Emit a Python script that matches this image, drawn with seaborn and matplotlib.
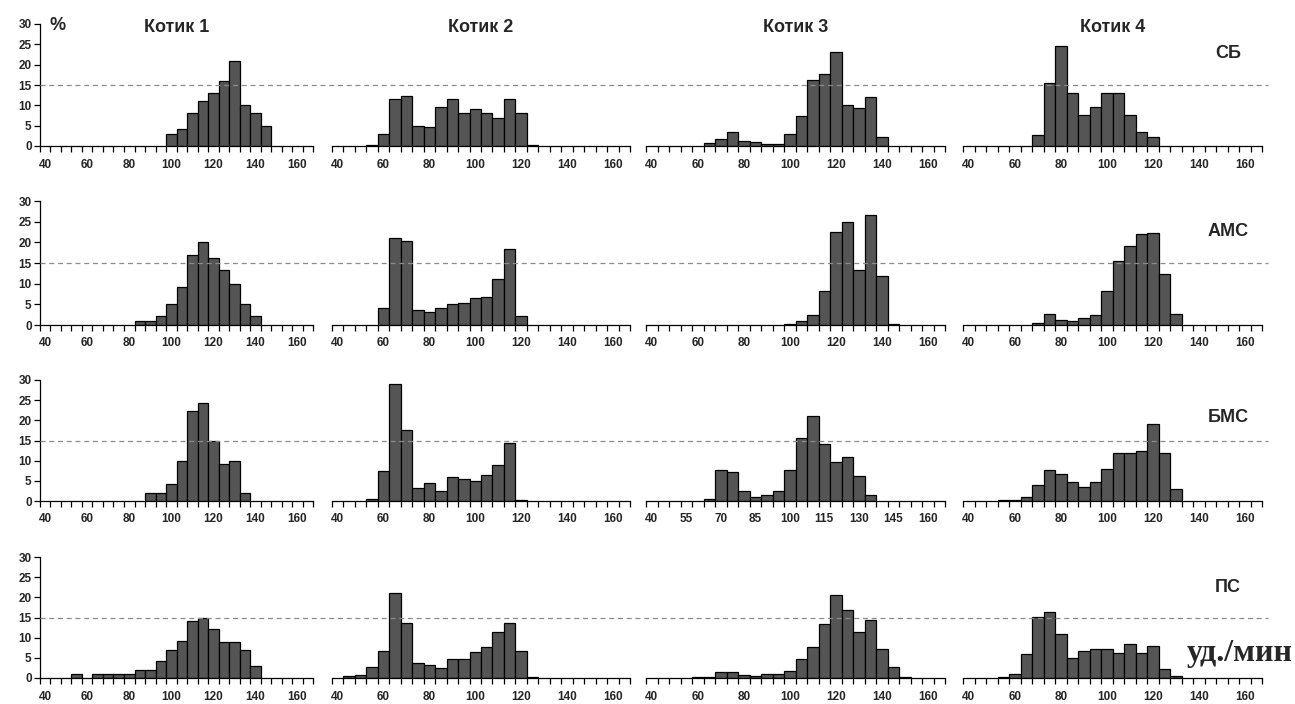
import numpy as np
import pandas as pd
import matplotlib
matplotlib.use("Agg")
import matplotlib.pyplot as plt
import seaborn as sns
from matplotlib.lines import Line2D
from matplotlib.transforms import blended_transform_factory
from matplotlib.ticker import FixedLocator

# ---------------- data ----------------
# heart-rate categories (уд./мин), one bar per category
CATEGORIES = [40, 45, 50, 55, 60, 65, 70, 75, 80, 85, 90, 95, 100,
              105, 110, 115, 120, 125, 130, 135, 140, 145, 150, 155, 160, 165]
CATS = ["Котик 1", "Котик 2", "Котик 3", "Котик 4"]
MODES = ["СБ", "АМС", "БМС", "ПС"]
TICKS_DEFAULT = [40, 60, 80, 100, 120, 140, 160]
TICKS_BMS_K3 = [40, 55, 70, 85, 100, 115, 130, 145, 160]
Y_TICKS = [0, 5, 10, 15, 20, 25, 30]
REF_LEVEL = 15

# percentages, one value per category (40 ... 165)
sb_k1 = [0, 0, 0, 0, 0, 0, 0, 0, 0, 0, 0, 0, 3, 4.2, 8, 11, 13, 16, 21, 10, 8, 5, 0, 0, 0, 0]
sb_k2 = [0, 0, 0, 0.3, 3, 11.5, 12.3, 5, 4.7, 9.5, 11.5, 8.2, 9.1, 8.2, 6.8, 11.5, 8, 0.3, 0, 0, 0, 0, 0, 0, 0, 0]
sb_k3 = [0, 0, 0, 0, 0, 0.7, 1.8, 3.5, 1.2, 0.9, 0.6, 0.6, 3, 7.4, 16.2, 17.7, 23.2, 10, 9.4, 12.1, 2.1, 0, 0, 0, 0, 0]
sb_k4 = [0, 0, 0, 0, 0, 0, 2.7, 15.4, 24.7, 13, 7.6, 9.7, 13, 13, 7.6, 3.5, 2.1, 0, 0, 0, 0, 0, 0, 0, 0, 0]

ams_k1 = [0, 0, 0, 0, 0, 0, 0, 0, 0, 1, 1, 2.1, 5, 9.2, 17, 20.2, 16.1, 13.3, 10, 5, 2.1, 0, 0, 0, 0, 0]
ams_k2 = [0, 0, 0, 0, 4.1, 21, 20.4, 3.6, 3.2, 4.1, 5, 5.35, 6.5, 6.8, 11.1, 18.4, 2.1, 0, 0, 0, 0, 0, 0, 0, 0, 0]
ams_k3 = [0, 0, 0, 0, 0, 0, 0, 0, 0, 0, 0, 0, 0.3, 0.9, 2.35, 8.3, 22.5, 24.8, 13.2, 26.5, 11.8, 0.3, 0, 0, 0, 0]
ams_k4 = [0, 0, 0, 0, 0, 0, 0.6, 2.75, 1.3, 1.0, 1.6, 2.5, 8.3, 15.6, 19.1, 22, 22.3, 12.3, 2.75, 0, 0, 0, 0, 0, 0, 0]

bms_k1 = [0, 0, 0, 0, 0, 0, 0, 0, 0, 0, 2, 2, 4.1, 10, 22.2, 24.2, 14.9, 9.1, 10, 2.1, 0, 0, 0, 0, 0, 0]
bms_k2 = [0, 0, 0, 0.6, 7.4, 29, 17.7, 3.2, 4.45, 2.4, 5.9, 5.4, 5.0, 6.5, 8.9, 14.5, 0.3, 0, 0, 0, 0, 0, 0, 0, 0, 0]
bms_k3 = [0, 0, 0, 0, 0, 0.6, 7.7, 7.1, 2.4, 0.9, 1.5, 2.6, 7.7, 15.7, 21, 14.2, 9.7, 11, 6.3, 1.5, 0, 0, 0, 0, 0, 0]
bms_k4 = [0, 0, 0, 0.3, 0.3, 0.9, 3.9, 7.7, 6.8, 4.7, 3.5, 4.7, 8.0, 11.8, 11.8, 12.4, 19.2, 11.8, 3.0, 0, 0, 0, 0, 0, 0, 0]

ps_k1 = [0, 0, 0, 1.0, 0, 1, 1, 1, 1, 2.05, 2.05, 4.1, 7, 9.1, 14.1, 15, 12.1, 9, 9, 7, 3, 0, 0, 0, 0, 0]
ps_k2 = [0, 0.4, 0.7, 2.7, 6.8, 21, 13.6, 3.8, 3.2, 2.4, 4.8, 4.8, 6.5, 7.6, 11.5, 13.6, 6.8, 0.3, 0, 0, 0, 0, 0, 0, 0, 0]
ps_k3 = [0, 0, 0, 0, 0.3, 0.3, 1.6, 1.6, 0.8, 0.5, 1.1, 1.1, 1.65, 4.7, 7.8, 13.5, 20.5, 16.9, 11.3, 14.3, 7.2, 2.8, 0.3, 0, 0, 0]
ps_k4 = [0, 0, 0, 0.3, 1.0, 6.0, 15.1, 16.4, 11.0, 4.9, 6.65, 7.2, 7.2, 6.3, 8.5, 6.3, 8.05, 2.2, 0.5, 0, 0, 0, 0, 0, 0, 0]

SERIES = [
    [sb_k1, sb_k2, sb_k3, sb_k4],
    [ams_k1, ams_k2, ams_k3, ams_k4],
    [bms_k1, bms_k2, bms_k3, bms_k4],
    [ps_k1, ps_k2, ps_k3, ps_k4],
]

# ---------------- style ----------------
sns.set_theme(style="ticks")
plt.rcParams["font.family"] = ["Liberation Sans", "DejaVu Sans"]
plt.rcParams["axes.linewidth"] = 0.9
plt.rcParams["axes.edgecolor"] = "black"

W, H = 1295, 704
fig = plt.figure(figsize=(W / 100, H / 100), dpi=100)

col_px = [(40, 313), (332, 630), (646, 945), (963, 1262)]
row_px = [(24, 146), (201, 325), (380, 501), (557, 678)]

BAR_COLOR = "#555555"
TICK_FS = 8.5
axes = []
for r in range(4):
    row_axes = []
    for c in range(4):
        x0, x1 = col_px[c]
        y0, y1 = row_px[r]
        ax = fig.add_axes([x0 / W, 1 - y1 / H, (x1 - x0) / W, (y1 - y0) / H])
        df = pd.DataFrame({"bpm": CATEGORIES, "pct": SERIES[r][c]})
        df = df[df["pct"] > 0]
        sns.barplot(data=df, x="bpm", y="pct", native_scale=True, width=1,
                    color=BAR_COLOR, saturation=1, edgecolor="black",
                    linewidth=0.9, errorbar=None, ax=ax)
        ax.set_xlim(37.5, 167.5)
        ax.set_ylim(0, 30)
        ax.set_xlabel("")
        ax.set_ylabel("")
        ticks = TICKS_BMS_K3 if (r == 2 and c == 2) else TICKS_DEFAULT
        ax.set_xticks(ticks)
        ax.set_xticklabels([str(t) for t in ticks], fontsize=TICK_FS,
                           fontweight="bold")
        ax.xaxis.set_minor_locator(FixedLocator(np.arange(37.5, 170, 5)))
        ax.tick_params(axis="x", which="major", length=0, pad=9)
        ax.tick_params(axis="x", which="minor", length=4, width=0.9,
                       direction="out", color="black")
        for s in ("top", "right"):
            ax.spines[s].set_visible(False)
        if c == 0:
            ax.set_yticks(Y_TICKS)
            ax.set_yticklabels([str(t) for t in Y_TICKS], fontsize=TICK_FS,
                               fontweight="bold")
            ax.tick_params(axis="y", length=4, width=0.9, pad=2, color="black")
        else:
            ax.set_yticks([])
            ax.spines["left"].set_visible(False)
        ax.set_facecolor("none")
        row_axes.append(ax)
    axes.append(row_axes)

    # dashed reference line across the whole row
    tr = blended_transform_factory(fig.transFigure, row_axes[0].transData)
    line = Line2D([40 / W, 1268 / W], [REF_LEVEL, REF_LEVEL], transform=tr,
                  linestyle=(0, (4, 3)), color="#8c8c8c", linewidth=0.9,
                  zorder=10)
    fig.add_artist(line)

# column titles
for c, name in enumerate(CATS):
    x0, x1 = col_px[c]
    fig.text(((x0 + x1) / 2) / W, 1 - 27 / H, name, ha="center", va="center",
             fontsize=13, fontweight="bold")

fig.text(58 / W, 1 - 25 / H, "%", ha="center", va="center", fontsize=13,
         fontweight="bold")

# row labels
row_label_y = [53, 231, 417, 588]
for r, name in enumerate(MODES):
    fig.text(1228 / W, 1 - row_label_y[r] / H, name, ha="center", va="center",
             fontsize=13, fontweight="bold")

fig.text(1240 / W, 1 - 654 / H, "уд./мин", ha="center", va="center",
         fontsize=23, fontweight="bold",
         family=["Liberation Serif", "DejaVu Serif"])

fig.savefig("out.png", dpi=100)
